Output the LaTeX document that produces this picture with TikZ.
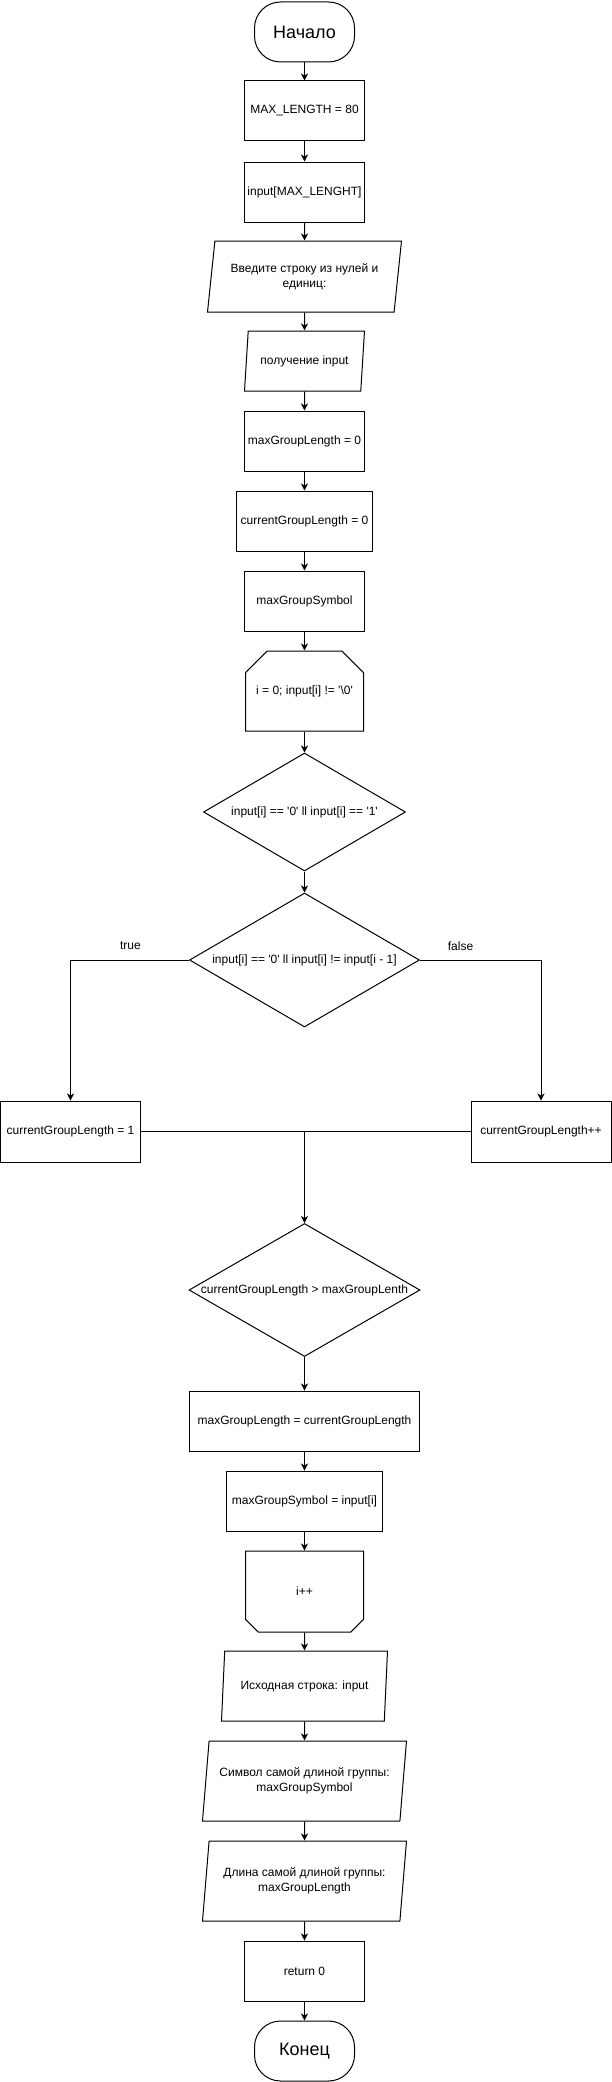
\documentclass[tikz,border=0pt]{standalone}
\usepackage{fontspec}
\setmainfont{Liberation Sans}[Ligatures=TeXOff]
\usetikzlibrary{arrows.meta,shapes.geometric,shapes.misc}

\begin{document}
\begin{tikzpicture}[x=1pt,y=-1pt,>={Stealth[length=7pt,width=7pt,inset=2pt]},line width=1pt,
  font=\fontsize{12}{15}\selectfont,every node/.style={inner sep=0pt,align=center},
  term/.style={draw,rounded corners=26pt,minimum width=100pt,minimum height=60pt,font=\fontsize{18}{20}\selectfont},
  proc/.style={draw,minimum width=#1,minimum height=60pt},proc/.default=120pt,
  io/.style n args={3}{draw,trapezium,trapezium stretches body,trapezium left angle=#1,trapezium right angle=#2,minimum width=#3},
  dec/.style 2 args={draw,diamond,aspect=1.72,minimum width=#1,minimum height=#2},
  loopbeg/.style={draw,chamfered rectangle,chamfered rectangle corners={north west,north east},chamfered rectangle xsep=20pt,chamfered rectangle ysep=16pt,minimum width=118pt,minimum height=80pt},
  loopend/.style={loopbeg,chamfered rectangle corners={south west,south east}}]
\fill[white] (0,0) rectangle (611,2082);
% linear part
\node[term] (start) at (304,32){Начало};
\node[proc] (maxlen) at (304,111){MAX\_LENGTH = 80};
\node[proc] (inbuf) at (304,192){input[MAX\_LENGHT]};
\node[io={74.27}{105.73}{194pt},minimum height=71pt] (prompt) at (304,276.5){Введите строку из нулей и\\единиц:};
\node[io={71.57}{108.43}{120pt},minimum height=60pt] (readin) at (304,361){получение input};
\node[proc] (maxzero) at (304,441){maxGroupLength = 0};
\node[proc=136pt] (curzero) at (304,521){currentGroupLength = 0};
\node[proc] (maxsym) at (304,601){maxGroupSymbol};
\node[loopbeg] (forbeg) at (304,691){i = 0; input[i] != '\textbackslash 0'};
\node[dec={202pt}{118pt}] (isbin) at (304,812){input[i] == '0' ll input[i] == '1'};
\node[dec={230pt}{134pt}] (newgrp) at (304,960){input[i] == '0' ll input[i] != input[i - 1]};
% branches
\node[proc=140pt,minimum height=61pt] (curone) at (70,1131.5){currentGroupLength = 1};
\node[proc=140pt,minimum height=61pt] (curinc) at (540.5,1131.5){currentGroupLength++};
\node (truelbl) at (130,946){true};\node (falselbl) at (460,946){false};
\node[dec={231pt}{133pt},inner xsep=-4pt] (ismax) at (304,1290){currentGroupLength > maxGroupLenth};
\node[proc=230pt] (setmax) at (304,1421){maxGroupLength = currentGroupLength};
\node[proc=156pt] (setsym) at (304,1501){maxGroupSymbol = input[i]};
\node[loopend,minimum height=81pt] (forend) at (304,1591.5){i++};
% output
\node[io={74.05}{105.95}{166pt},minimum height=70pt] (outstr) at (304,1686){Исходная строка: input};
\node[io={75.96}{104.04}{204pt},minimum height=80pt] (outsym) at (304,1781){Символ самой длиной группы:\\maxGroupSymbol};
\node[io={75.96}{104.04}{204pt},minimum height=80pt] (outlen) at (304,1881){Длина самой длиной группы:\\maxGroupLength};
\node[proc] (ret) at (304,1971){return 0};
\node[term] (stop) at (304,2051){Конец};
% connectors
\draw[->] (start.south)--(maxlen.north);\draw[->] (maxlen.south)--(inbuf.north);\draw[->] (inbuf.south)--(prompt.north);
\draw[->] (prompt.south)--(readin.north);\draw[->] (readin.south)--(maxzero.north);\draw[->] (maxzero.south)--(curzero.north);
\draw[->] (curzero.south)--(maxsym.north);\draw[->] (maxsym.south)--(forbeg.north);\draw[->] (forbeg.south)--(isbin.north);
\draw[->] (isbin.south)--(newgrp.north);
\draw[->] (newgrp.west)-|(curone.north);\draw[->] (newgrp.east)-|(curinc.north);
\draw (curone.east)--(curinc.west);\coordinate (join) at (ismax.north |- curone.east);
\draw[->] (join)--(ismax.north);
\draw[->] (ismax.south)--(setmax.north);\draw[->] (setmax.south)--(setsym.north);\draw[->] (setsym.south)--(forend.north);
\draw[->] (forend.south)--(outstr.north);\draw[->] (outstr.south)--(outsym.north);\draw[->] (outsym.south)--(outlen.north);
\draw[->] (outlen.south)--(ret.north);\draw[->] (ret.south)--(stop.north);
\end{tikzpicture}
\end{document}
